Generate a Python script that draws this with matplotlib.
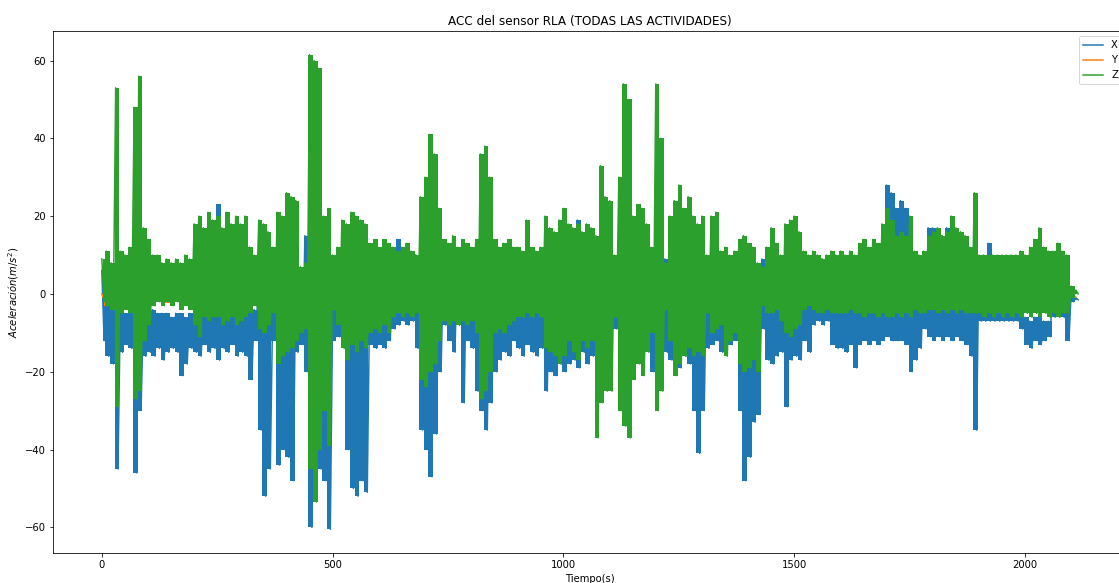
import matplotlib
matplotlib.use('Agg')
import matplotlib.pyplot as plt
import numpy as np

""" envelope read off the plot: for every 10 s window the max and then the min value (m/s^2) """
# X axis (blue)
acc_x = [6,-12, 10,-16, -4,-18, -3,-45, -5,-15, -5,-13, -4,-14, -3,-46, -4,-30, -4,-16,
         -5,-15, -4,-16, -5,-14, -5,-17, -5,-15, -6,-14, -5,-15, -5,-21, -6,-18, -5,-14,
         -4,-15, -4,-16, -5,-13, -4,-15, -4,-14, 23,-17, 15,-14, 16,-15, 14,-13, 15,-16,
         14,-15, 12,-16, 8,-22, -4,-12, 15,-35, 12,-52, 10,-45, -5,-12, 10,-44, 8,-40,
         8,-42, 8,-48, 5,-15, 5,-13, 15,-20, 15,-60, 10,-50, 8,-45, 8,-48, 6,-60.5,
         -4,-12, -5,-11, -5,-12, 10,-40, 12,-50, 12,-52, 10,-48, 8,-51, -3,-13, -4,-14,
         -4,-13, -3,-14, -4,-12, 10,-9, 14,-8, 10,-7, 9,-8, 10,-7, 10,-14, 10,-35,
         9,-40, 9,-47, 9,-36, 9,-20, 10,-8, 9,-12, 10,-15, 9,-8, 10,-28, 9,-12,
         9,-14, 8,-25, 8,-30, 8,-35, 8,-28, 10,-20, 10,-17, 9,-15, 10,-16, 9,-12,
         9,-14, 9,-16, 10,-13, 9,-15, 9,-16, 9,-14, 13,-25, 12,-20, 11,-21, 14,-18,
         13,-20, 12,-18, 10,-17, 19,-19, 12,-15, 9,-18, 10,-16, 12,-14, 9,-9, 9,-9,
         9,-8, 9,-9, 9,-8, 9,-12, 10,-9, 9,-8, 9,-16, 9,-17, 9,-14, 10,-20,
         10,-25, 9,-22, 9,-15, 9,-17, 9,-20, 9,-19, 9,-16, 9,-18, 9,-30, 9,-41,
         9,-30, 9,-14, 9,-13, 9,-12, 9,-15, 9,-11, 9,-13, 9,-12, 8,-30, 8,-48,
         8,-42, 8,-33, 6,-31, 9,-9, 9,-17, 9,-18, 9,-16, 9,-15, 9,-29, 9,-17,
         9,-16, 9,-17, 9,-12, 9,-15, 9,-8, 9,-7, 9,-8, 9,-7, 9,-13, 9,-14,
         9,-14, 9,-15, 9,-13, 9,-19, 10,-13, 10,-12, 11,-13, 10,-12, 12,-13, 14,-12,
         28,-11, 26,-12, 22,-12, 24,-12, 22,-13, 14,-20, 10,-17, 9,-14, 8,-9, 17,-11,
         17,-12, 16,-11, 15,-12, 17,-11, 16,-12, 16,-11, 14,-12, 12,-13, 9,-16, 9,-35,
         9,-7, 9,-7, 13,-7, 9,-7, 8,-7, 8,-7, 8,-7, 8,-7, 8,-7, 5,-9,
         -6,-13, -7,-14, -6,-12, -6,-13, -7,-12, -7,-11, 8,-6, 13,-5, 8,-6, 5,-12,
         1,-2, -1,-1.5]

# Y axis (orange), 20 s windows
acc_y = [0,-3, 0.5,-2.5, 0,-2.8, 0.5,-2.5, 0,-2.2, 0.3,-2.5, 0,-2, 0.3,-2.2, 0,-2, 0.3,-2.5,
         0,-2, 0.3,-1.8, 0,-2, 0.3,-1.5, 0,-2.5, 0.3,-2, 0.5,-3, 0.2,-2, 0,-2.5, 0.3,-2,
         0.3,-2, 0,-1.8, 0.3,-2, 0.5,-6.5, 0.3,-2, 0,-1.5, 0.3,-1.8, 0.2,-2, 0.3,-1.5, 0,-1.8,
         0.3,-1.5, 0.5,-2, 0.3,-1.5, 0,-1.5, 0.3,-1.5, 0.3,-2.5, 0.3,-1.5, 0.3,-1.5, 0.3,-2, 0.3,-1.5,
         0.3,-1.5, 0.5,-2, 0.3,-1.5, 0.3,-1.5, 0.3,-1.8, 0.3,-1.5, 0.3,-1.5, 0.3,-1.5, 0.3,-2, 0.3,-1.5,
         0.3,-1.5, 0.3,-2, 0.3,-1.5, 0.3,-1.5, 0.3,-3, 0.3,-1.5, 0.3,-1.5, 0.3,-2, 0,-5, 0,-4.5,
         0.3,-1.5, 0.3,-2, 0.3,-1.5, 0,-4, 0.3,-1.5, 0.3,-2, 0.3,-1.5, 0.3,-1.5, 0.3,-2, 0.3,-1.5,
         0.3,-1.5, 0.3,-2, 1.6,-1, 1.5,-1, 0.3,-2, 0.3,-1.5, 0.3,-1.5, 0.5,-1.5, 0.3,-1.5, 0.3,-1.5,
         0.3,-1.5, 0.3,-2, 0.5,-1.5, 0.3,-1.5, 0.3,-2, 0.5,-1.5, 0.3,-2, 0.5,-1.5, 0.3,-1.5, 1,-1.5,
         2,-2, 2,-2, 2,-1.5, 1.5,-2, 0.5,-1.5, 0.3,-1.5, 0.5,-2, 0.3,-1.5, 0.5,-1.5, 0.3,-1.5,
         0.3,-1.5, 0.5,-2, 0.5,-1.5, 1,-2, 1,-2, -0.3,-0.8]

# Z axis (green)
acc_z = [9,-2, 11,-3, 8,-4, 53,-29, 11,-5, 10,-4, 12,-5, 48,-27, 56,-25, 17,-12,
         14,-8, 10,-3, 10,-2, 8,-3, 9,-2, 8,-3, 9,-2, 8,-4, 10,-3, 9,-4,
         18,-8, 20,-11, 17,-6, 21,-7, 19,-6, 20,-6, 17,-8, 21,-7, 18,-6, 20,-8,
         18,-7, 20,-6, 12,-5, 10,-3, 19,-9, 18,-10, 16,-8, 12,-5, 21,-18, 20,-16,
         26,-15, 25,-14, 24,-12, 7,-10, 8,-9, 61.5,-45, 60,-53.5, 58,-40, 20,-30, 22,-39,
         10,-4, 12,-8, 19,-14, 18,-17, 21,-13, 20,-15, 19,-12, 18,-14, 13,-10, 14,-9,
         12,-10, 14,-8, 13,-10, 12,-6, 11,-5, 12,-6, 13,-5, 11,-6, 10,-5, 25,-22,
         30,-24, 41,-20, 36,-18, 22,-12, 14,-7, 13,-8, 15,-7, 12,-8, 14,-7, 13,-8,
         12,-7, 14,-10, 36,-27, 38,-25, 30,-20, 14,-10, 12,-9, 13,-10, 14,-8, 12,-7,
         12,-6, 11,-6, 19,-5, 12,-6, 11,-5, 12,-6, 20,-14, 17,-15, 16,-16, 19,-18,
         22,-16, 18,-12, 17,-15, 18,-17, 16,-12, 18,-14, 17,-12, 15,-37, 33,-28, 25,-25,
         24,-25, 10,-6, 30,-30, 54,-34, 50,-37, 20,-22, 23,-18, 22,-21, 18,-15, 12,-10,
         54,-30, 40,-25, 8,-4, 20,-12, 24,-21, 28,-18, 22,-16, 25,-14, 20,-16, 18,-15,
         20,-16, 10,-5, 20,-10, 21,-9, 11,-8, 12,-16, 10,-12, 11,-10, 14,-18, 15,-20,
         13,-19, 12,-17, 8,-20, 7,-3, 12,-5, 17,-5, 13,-4, 10,-7, 18,-10, 19,-11,
         20,-9, 16,-8, 11,-4, 10,-3, 11,-4, 10,-5, 9,-5, 10,-4, 11,-5, 10,-5,
         11,-5, 10,-5, 11,-4, 10,-5, 13,-5, 14,-6, 12,-5, 14,-5, 13,-6, 18,-5,
         22,-6, 19,-6, 15,-5, 16,-6, 15,-5, 20,-6, 11,-4, 10,-5, 11,-5, 15,-4,
         16,-4, 17,-5, 15,-4, 16,-5, 20,-4, 17,-5, 16,-4, 15,-5, 12,-5, 26,-5,
         10,-5, 10,-6, 10,-5, 10,-6, 10,-5, 10,-6, 10,-5, 10,-6, 10,-5, 11,-6,
         10,-5, 12,-6, 14,-5, 17,-6, 12,-5, 11,-6, 11,-5, 13,-6, 11,-5, 10,-5,
         2,-1, 1,0]

series = [('X', acc_x, 5.0, 'C0'), ('Y', acc_y, 10.0, 'C1'), ('Z', acc_z, 5.0, 'C2')]

fig = plt.figure(figsize=(1119 / 72, 583 / 72), dpi=72)
# axes run past the right edge, like the cut-off notebook output
ax = fig.add_axes([53 / 1119, 30 / 583, 1074 / 1119, 522 / 583])
for i, (name, vals, step, col) in enumerate(series):
    vals = np.array(vals, dtype=float)
    t = np.arange(len(vals)) * step
    # dense signal -> fill the band between window max and min, then the trace itself
    ax.fill_between(t[0::2] + step / 2, vals[1::2], vals[0::2], step='mid',
                    color=col, lw=0, zorder=2 + 2 * i)
    ax.plot(t, vals, color=col, label=name, zorder=3 + 2 * i)
ax.set_title('ACC del sensor RLA (TODAS LAS ACTIVIDADES)')
ax.set_xlabel('Tiempo(s)')
ax.set_ylabel(r'$Aceleración(m/s^2)$')
ax.legend(loc='upper right')
fig.savefig('out.png', dpi=72)
